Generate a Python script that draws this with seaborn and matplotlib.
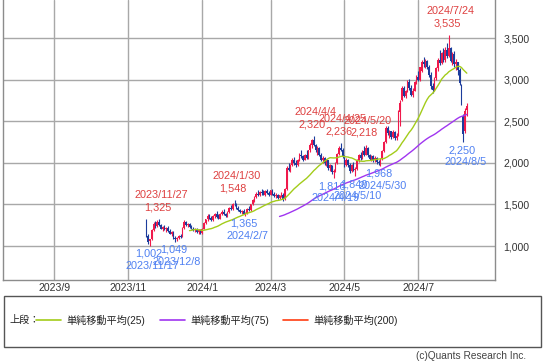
import matplotlib
matplotlib.use("Agg")
import matplotlib.pyplot as plt
import numpy as np
import pandas as pd
import seaborn as sns
from matplotlib.patches import Rectangle

# TSE closing days inside the plotted calendar
HOLIDAYS = [
    "2023-07-17", "2023-08-11", "2023-09-18", "2023-10-09", "2023-11-03", "2023-11-23",
    "2024-01-01", "2024-01-02", "2024-01-03", "2024-01-08", "2024-02-12", "2024-02-23",
    "2024-03-20", "2024-04-29", "2024-05-03", "2024-05-06", "2024-07-15", "2024-08-12",
    "2024-09-16", "2024-09-23",
]
FIRST_DAY = "2023-11-15"
LAST_DAY = "2024-08-07"

# daily candles, 2023/11/15 .. 2024/8/7
open_ = [
    1310, 1120, 1060, 1080, 1190, 1270, 1240, 1290, 1250, 1210,
    1230, 1200, 1220, 1180, 1150, 1170, 1100, 1080, 1100, 1120,
    1110, 1220, 1290, 1250, 1270, 1230, 1210, 1190, 1210, 1170,
    1190, 1160, 1210, 1280, 1320, 1360, 1340, 1310, 1360, 1390,
    1350, 1330, 1390, 1410, 1380, 1360, 1410, 1460, 1440, 1510,
    1500, 1460, 1430, 1410, 1420, 1390, 1400, 1450, 1430, 1500,
    1550, 1590, 1630, 1610, 1650, 1640, 1620, 1660, 1640, 1620,
    1670, 1630, 1600, 1620, 1580, 1610, 1620, 1560, 1690, 1940,
    1920, 1980, 2040, 2000, 1970, 2030, 2100, 2080, 2040, 2090,
    2060, 2150, 2220, 2270, 2210, 2150, 2180, 2100, 2040, 2060,
    2000, 2030, 1940, 1970, 1890, 1900, 2000, 2110, 2180, 2160,
    2080, 1970, 2040, 1980, 1900, 1980, 1920, 1930, 2030, 2090,
    2060, 2140, 2100, 2180, 2090, 2050, 2080, 2030, 2060, 2010,
    2000, 2050, 2140, 2250, 2420, 2360, 2380, 2310, 2370, 2300,
    2330, 2610, 2760, 2900, 2810, 2860, 2980, 2900, 2820, 2870,
    2970, 3040, 3000, 3110, 3220, 3190, 3230, 3150, 3060, 2920,
    2880, 3020, 3140, 3240, 3200, 3320, 3240, 3360, 3290, 3380,
    3230, 3310, 3190, 3210, 3120, 2940, 2560, 2380, 2640,
]
high = [
    1320, 1150, 1090, 1200, 1290, 1300, 1310, 1325, 1270, 1240,
    1250, 1230, 1240, 1200, 1180, 1175, 1120, 1110, 1130, 1140,
    1230, 1310, 1300, 1280, 1280, 1250, 1230, 1220, 1220, 1200,
    1200, 1220, 1290, 1330, 1380, 1390, 1360, 1370, 1400, 1420,
    1380, 1400, 1430, 1440, 1400, 1420, 1470, 1490, 1520, 1548,
    1520, 1480, 1450, 1430, 1440, 1410, 1460, 1480, 1510, 1560,
    1600, 1650, 1670, 1660, 1690, 1680, 1670, 1690, 1660, 1680,
    1690, 1650, 1640, 1630, 1620, 1650, 1640, 1700, 1960, 2000,
    1990, 2060, 2070, 2040, 2050, 2120, 2160, 2100, 2110, 2150,
    2160, 2240, 2290, 2320, 2230, 2200, 2190, 2120, 2080, 2070,
    2050, 2040, 1990, 1980, 1930, 2010, 2120, 2200, 2236, 2180,
    2090, 2060, 2050, 2000, 1990, 2010, 1950, 2050, 2110, 2130,
    2150, 2200, 2218, 2190, 2110, 2100, 2090, 2080, 2070, 2040,
    2060, 2150, 2260, 2440, 2440, 2400, 2390, 2400, 2390, 2360,
    2640, 2760, 2930, 2920, 2880, 3000, 3010, 2940, 2900, 2990,
    3060, 3110, 3160, 3240, 3270, 3250, 3240, 3180, 3090, 2960,
    3040, 3160, 3260, 3360, 3340, 3380, 3390, 3440, 3535, 3400,
    3340, 3350, 3250, 3220, 3140, 2950, 2590, 2660, 2720,
]
low = [
    1110, 1030, 1002, 1070, 1180, 1220, 1230, 1240, 1200, 1180,
    1190, 1170, 1170, 1140, 1120, 1090, 1049, 1060, 1080, 1100,
    1105, 1210, 1240, 1230, 1220, 1200, 1180, 1170, 1160, 1150,
    1150, 1150, 1200, 1260, 1300, 1320, 1300, 1300, 1340, 1340,
    1320, 1320, 1370, 1370, 1350, 1350, 1400, 1430, 1430, 1480,
    1450, 1420, 1400, 1380, 1380, 1365, 1390, 1420, 1420, 1490,
    1530, 1580, 1600, 1600, 1620, 1610, 1600, 1630, 1600, 1610,
    1620, 1590, 1580, 1570, 1560, 1590, 1540, 1550, 1680, 1900,
    1890, 1960, 1980, 1950, 1960, 2020, 2060, 2020, 2030, 2050,
    2050, 2130, 2180, 2200, 2130, 2100, 2080, 2020, 2000, 1980,
    1960, 1920, 1900, 1870, 1816, 1890, 1990, 2090, 2140, 2060,
    1950, 1960, 1950, 1880, 1890, 1900, 1840, 1920, 2010, 2040,
    2050, 2080, 2090, 2070, 2030, 2020, 2010, 2010, 1990, 1980,
    1968, 2040, 2130, 2240, 2340, 2300, 2290, 2300, 2280, 2270,
    2320, 2450, 2740, 2790, 2780, 2850, 2880, 2800, 2790, 2860,
    2950, 2990, 2990, 3090, 3160, 3140, 3130, 3040, 2890, 2840,
    2870, 3000, 3110, 3180, 3190, 3210, 3220, 3260, 3270, 3210,
    3180, 3160, 3120, 3060, 2940, 2700, 2250, 2360, 2560,
]
close = [
    1130, 1050, 1080, 1190, 1270, 1240, 1290, 1250, 1210, 1230,
    1200, 1220, 1180, 1150, 1170, 1100, 1080, 1100, 1120, 1110,
    1220, 1290, 1250, 1270, 1230, 1210, 1190, 1210, 1170, 1190,
    1160, 1210, 1280, 1320, 1360, 1340, 1310, 1360, 1390, 1350,
    1330, 1390, 1410, 1380, 1360, 1410, 1460, 1440, 1510, 1500,
    1460, 1430, 1410, 1420, 1390, 1400, 1450, 1430, 1500, 1550,
    1590, 1630, 1610, 1650, 1640, 1620, 1660, 1640, 1620, 1670,
    1630, 1600, 1620, 1580, 1610, 1620, 1560, 1690, 1940, 1920,
    1980, 2040, 2000, 1970, 2030, 2100, 2080, 2040, 2090, 2060,
    2150, 2220, 2270, 2210, 2150, 2180, 2100, 2040, 2060, 2000,
    2030, 1940, 1970, 1890, 1900, 2000, 2110, 2180, 2160, 2080,
    1970, 2040, 1980, 1900, 1980, 1920, 1930, 2030, 2090, 2060,
    2140, 2100, 2180, 2090, 2050, 2080, 2030, 2060, 2010, 2000,
    2050, 2140, 2250, 2420, 2360, 2380, 2310, 2370, 2300, 2330,
    2610, 2720, 2900, 2810, 2860, 2980, 2900, 2820, 2870, 2970,
    3040, 3000, 3150, 3220, 3190, 3230, 3150, 3060, 2920, 2880,
    3020, 3140, 3240, 3200, 3320, 3240, 3360, 3290, 3380, 3230,
    3310, 3190, 3210, 3120, 2960, 2720, 2350, 2620, 2680,
]

# labelled highs / lows (date, price)
high_marks = [("2023/11/27", 1325), ("2024/1/30", 1548), ("2024/4/4", 2320),
              ("2024/4/25", 2236), ("2024/5/20", 2218), ("2024/7/24", 3535)]
low_marks = [("2023/11/17", 1002), ("2023/12/8", 1049), ("2024/2/7", 1365),
             ("2024/4/19", 1816), ("2024/5/10", 1840), ("2024/5/30", 1968),
             ("2024/8/5", 2250)]

month_ticks = ["2023/9", "2023/11", "2024/1", "2024/3", "2024/5", "2024/7"]
y_ticks = [1000, 1500, 2000, 2500, 3000, 3500]

ma_windows = [25, 75, 200]
ma_labels = ["単純移動平均(25)", "単純移動平均(75)", "単純移動平均(200)"]
ma_colors = ["#a3cc1a", "#a035f0", "#ff3d12"]

UP = "#f0194b"
DOWN = "#1c3c9c"
HI_TXT = "#de4040"
LO_TXT = "#4f80f2"
GRID = "#a8a8a8"

sns.set_theme(style="white")
plt.rcParams["font.family"] = ["Liberation Sans", "Noto Sans CJK JP", "DejaVu Sans"]

# trading-day calendar (the x axis skips non-trading days)
cal = pd.bdate_range("2023-07-03", "2024-09-30")
cal = cal[~cal.isin(pd.to_datetime(HOLIDAYS))]
pos = pd.Series(np.arange(len(cal)), index=cal)
days = cal[(cal >= FIRST_DAY) & (cal <= LAST_DAY)]

df = pd.DataFrame({"date": days, "open": open_, "high": high, "low": low, "close": close})
df["x"] = pos[days].values
for w in ma_windows:
    df[f"ma{w}"] = df["close"].rolling(w).mean()


def xpos(label):
    return pos[pd.Timestamp(label.replace("/", "-"))]


def month_x(label):
    y, m = label.split("/")
    first = cal[(cal.year == int(y)) & (cal.month == int(m))][0]
    return pos[first] - 1


fig = plt.figure(figsize=(5.43, 3.62), dpi=100)
ax = fig.add_axes([3 / 543, 1 - 280 / 362, 492 / 543, 280 / 362])

x0 = pos[pd.Timestamp(FIRST_DAY)]
px_per_day = 1.8006
ax.set_xlim(x0 - 143.3 / px_per_day, x0 + 348.7 / px_per_day)
ax.set_ylim(591, 3961)

# grid
for t in month_ticks:
    ax.axvline(month_x(t), color=GRID, lw=1.0, zorder=0)
for v in y_ticks:
    ax.axhline(v, color=GRID, lw=1.0, zorder=0)

# candles
up = df["close"] >= df["open"]
colors = np.where(up, UP, DOWN)
ax.vlines(df["x"], df["low"], df["high"], colors=colors, lw=0.8, zorder=2)
body_lo = df[["open", "close"]].min(axis=1)
body_h = (df["close"] - df["open"]).abs().clip(lower=8)
ax.bar(df["x"], body_h, bottom=body_lo, width=0.8, color=colors, linewidth=0, zorder=2)

# moving averages
for w, c in zip(ma_windows, ma_colors):
    if df[f"ma{w}"].notna().any():
        sns.lineplot(data=df, x="x", y=f"ma{w}", ax=ax, color=c, lw=1.0,
                     legend=False, zorder=3)

# extreme labels
for d, v in high_marks:
    xx = xpos(d)
    ax.annotate(f"{v:,}", (xx, v), xytext=(-1.5, 12), textcoords="offset pixels",
                ha="center", va="center", fontsize=7.8, color=HI_TXT, zorder=4)
    ax.annotate(d, (xx, v), xytext=(2, 24), textcoords="offset pixels",
                ha="center", va="center", fontsize=7.8, color=HI_TXT, zorder=4)
for d, v in low_marks:
    xx = xpos(d)
    ax.annotate(f"{v:,}", (xx, v), xytext=(-1.5, -8), textcoords="offset pixels",
                ha="center", va="center", fontsize=7.8, color=LO_TXT, zorder=4)
    ax.annotate(d, (xx, v), xytext=(2, -20), textcoords="offset pixels",
                ha="center", va="center", fontsize=7.8, color=LO_TXT, zorder=4)

ax.set_xticks([month_x(t) for t in month_ticks])
ax.set_xticklabels(month_ticks)
ax.set_yticks(y_ticks)
ax.set_yticklabels([f"{v:,}" for v in y_ticks])
ax.yaxis.tick_right()
ax.tick_params(axis="both", length=0, labelsize=7.6, colors="#333333")
ax.tick_params(axis="y", pad=6)
ax.tick_params(axis="x", pad=2)
ax.set_xlabel("")
ax.set_ylabel("")
for side in ["left", "bottom", "right"]:
    ax.spines[side].set_color("#8c8c8c")
    ax.spines[side].set_linewidth(1.0)
ax.spines["top"].set_visible(False)

# legend panel drawn in pixel coordinates
lax = fig.add_axes([0, 0, 1, 1], facecolor="none")
lax.set_xlim(0, 543)
lax.set_ylim(362, 0)
lax.axis("off")
lax.add_patch(Rectangle((3.5, 296), 537, 51, fill=False, ec="#555555", lw=1.0))
lax.text(9, 320, "上段：", fontsize=7.3, va="center", ha="left", color="#222222")
seg_x = [36, 160, 283]
for sx, c, lab in zip(seg_x, ma_colors, ma_labels):
    lax.plot([sx, sx + 25], [320, 320], color=c, lw=1.2)
    lax.text(sx + 30, 320, lab, fontsize=7.3, va="center", ha="left", color="#222222")
lax.text(526, 356, "(c)Quants Research Inc.", fontsize=7.3, va="center", ha="right",
         color="#444444")

fig.savefig("out.png", dpi=100)
